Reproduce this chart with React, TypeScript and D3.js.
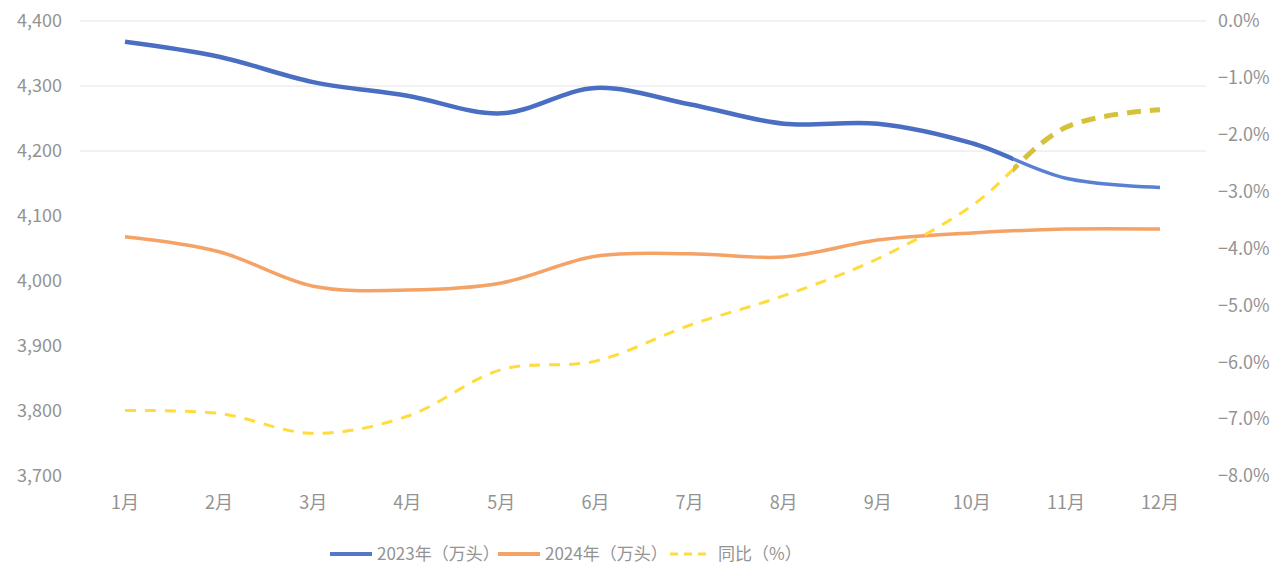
import React, { useEffect } from 'react'
import * as d3 from 'd3'

const months = ['1月', '2月', '3月', '4月', '5月', '6月', '7月', '8月', '9月', '10月', '11月', '12月']
const hogs2023 = [4368, 4345, 4306, 4285, 4258, 4297, 4272, 4242, 4242, 4212, 4158, 4144]
const hogs2024 = [4068, 4045, 3992, 3986, 3997, 4038, 4042, 4037, 4063, 4074, 4080, 4080]
const yoyPct = [-6.85, -6.9, -7.25, -6.95, -6.13, -5.98, -5.35, -4.83, -4.18, -3.25, -1.87, -1.56]
const leftTicks = [3700, 3800, 3900, 4000, 4100, 4200, 4300, 4400]
const gridTicks = [4200, 4300, 4400]
const rightTicks = [0, -1, -2, -3, -4, -5, -6, -7, -8]

const W = 1276
const H = 571
const margin = { top: 21, bottom: 476, left: 80, right: 1206 }
const FONT = '"Noto Sans CJK SC", "Noto Sans", sans-serif'
const LABEL = '#939393'
const SPLIT_X = 1013

export default function App() {
  useEffect(() => {
    document.body.style.margin = '0'
  }, [])

  const x = d3.scalePoint<string>().domain(months).range([125, 1160])
  const yLeft = d3.scaleLinear().domain([3700, 4400]).range([margin.bottom, margin.top])
  const yRight = d3.scaleLinear().domain([-8, 0]).range([margin.bottom, margin.top])

  // Excel's smoothed lines look nearly straight here, so a light Catmull-Rom
  const curve = d3.curveCatmullRom.alpha(0.5)
  const lineLeft = d3
    .line<number>()
    .x((_, i) => x(months[i]) as number)
    .y(d => yLeft(d))
    .curve(curve)
  const lineRight = d3
    .line<number>()
    .x((_, i) => x(months[i]) as number)
    .y(d => yRight(d))
    .curve(curve)

  const path2023 = lineLeft(hogs2023) || ''
  const path2024 = lineLeft(hogs2024) || ''
  const pathYoy = lineRight(yoyPct) || ''

  return (
    <svg width={W} height={H} style={{ display: 'block', background: '#fff' }} fontFamily={FONT}>
      <defs>
        <clipPath id="clip-left">
          <rect x={0} y={0} width={SPLIT_X} height={H} />
        </clipPath>
        <clipPath id="clip-right">
          <rect x={SPLIT_X} y={0} width={W - SPLIT_X} height={H} />
        </clipPath>
      </defs>

      {gridTicks.map(t => (
        <line
          key={t}
          x1={margin.left}
          x2={margin.right}
          y1={yLeft(t)}
          y2={yLeft(t)}
          stroke="#e4e4e4"
          strokeWidth={1}
        />
      ))}

      {leftTicks.map(t => (
        <text key={t} x={62} y={yLeft(t)} dy="0.35em" textAnchor="end" fontSize={18} fill={LABEL}>
          {d3.format(',')(t)}
        </text>
      ))}
      {rightTicks.map(t => (
        <text key={t} x={1218} y={yRight(t)} dy="0.35em" textAnchor="start" fontSize={18} fill={LABEL}>
          {d3.format('.1f')(t)}%
        </text>
      ))}
      {months.map(m => (
        <text key={m} x={x(m)} y={503} dy="0.35em" textAnchor="middle" fontSize={18} fill={LABEL}>
          {m}
        </text>
      ))}

      <path d={path2024} fill="none" stroke="#f5a266" strokeWidth={3.5} strokeLinejoin="round" />

      <path d={path2023} fill="none" stroke="#4a6ec2" strokeWidth={4.5} strokeLinejoin="round" clipPath="url(#clip-left)" />
      <path d={path2023} fill="none" stroke="#5a80d4" strokeWidth={3.5} strokeLinejoin="round" clipPath="url(#clip-right)" />

      <path
        d={pathYoy}
        fill="none"
        stroke="#ffdc3c"
        strokeWidth={3}
        strokeDasharray="11 9"
        clipPath="url(#clip-left)"
      />
      <path
        d={pathYoy}
        fill="none"
        stroke="#d6c23a"
        strokeWidth={5}
        strokeDasharray="14 9"
        clipPath="url(#clip-right)"
      />

      <g transform="translate(0,554)">
        <line x1={330} x2={372} y1={0} y2={0} stroke="#5577c9" strokeWidth={4} />
        <text x={377} y={0} dy="0.35em" fontSize={17} fill={LABEL}>
          2023年（万头）
        </text>
        <line x1={498} x2={540} y1={0} y2={0} stroke="#f5a266" strokeWidth={4} />
        <text x={545} y={0} dy="0.35em" fontSize={17} fill={LABEL}>
          2024年（万头）
        </text>
        <line x1={670} x2={712} y1={0} y2={0} stroke="#ffdc3c" strokeWidth={3} strokeDasharray="8 6" />
        <text x={718} y={0} dy="0.35em" fontSize={17} fill={LABEL}>
          同比（%）
        </text>
      </g>
    </svg>
  )
}
